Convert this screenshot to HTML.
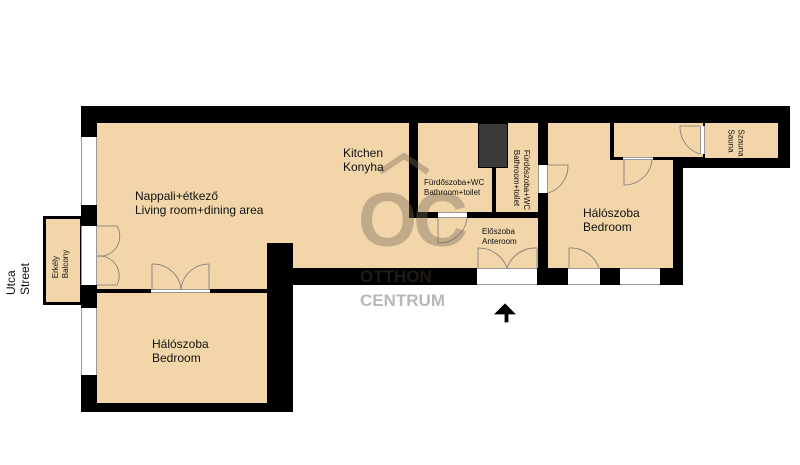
<!DOCTYPE html>
<html><head><meta charset="utf-8"><style>
body{margin:0;width:800px;height:465px;background:#fff;position:relative;overflow:hidden;font-family:"Liberation Sans",sans-serif}
div{position:absolute;box-sizing:border-box}
.f{background:#f2d6aa}
.w{background:#000}
.win{background:#fff;border-left:1px solid #999;border-right:1px solid #999}
.winh{background:#fff;border-top:1px solid #999;border-bottom:1px solid #999}
.t{font-size:12px;line-height:14px;color:#111;white-space:nowrap}
.s{font-size:8px;line-height:10px;color:#111;white-space:nowrap}
</style></head><body>
<div class="w" style="left:81px;top:106px;width:709px;height:62px"></div>
<div class="w" style="left:81px;top:106px;width:212px;height:306px"></div>
<div class="w" style="left:267px;top:106px;width:416px;height:179px"></div>
<div class="f" style="left:97px;top:123px;width:312px;height:145px"></div>
<div class="f" style="left:97px;top:123px;width:170px;height:166px"></div>
<div class="w" style="left:267px;top:243px;width:26px;height:25px"></div>
<div class="f" style="left:97px;top:293px;width:170px;height:110px"></div>
<div class="f" style="left:418px;top:123px;width:74px;height:89px"></div>
<div class="f" style="left:496px;top:123px;width:42px;height:89px"></div>
<div style="left:478px;top:123px;width:30px;height:45px;background:#3a3a3a;border:1px solid #000"></div>
<div class="f" style="left:405px;top:218px;width:133px;height:50px"></div>
<div class="f" style="left:548px;top:123px;width:125px;height:145px"></div>
<div class="w" style="left:610px;top:123px;width:4px;height:37px"></div>
<div class="w" style="left:610px;top:157px;width:63px;height:3px"></div>
<div class="f" style="left:614px;top:123px;width:89px;height:34px"></div>
<div class="f" style="left:705px;top:123px;width:73px;height:35px"></div>
<div class="w" style="left:97px;top:289px;width:170px;height:4px"></div>
<div class="winh" style="left:151px;top:289px;width:59px;height:4px"></div>
<div style="left:43px;top:216px;width:40px;height:89px;border:3px solid #000;background:#f2d6aa"></div>
<div class="win" style="left:81px;top:137px;width:16px;height:68px"></div>
<div class="win" style="left:81px;top:226px;width:16px;height:59px"></div>
<div class="win" style="left:81px;top:308px;width:16px;height:67px"></div>
<div class="winh" style="left:477px;top:268px;width:60px;height:17px"></div>
<div class="winh" style="left:568px;top:268px;width:32px;height:17px"></div>
<div class="winh" style="left:620px;top:268px;width:40px;height:17px"></div>
<div class="winh" style="left:438px;top:212px;width:29px;height:6px"></div>
<div class="win" style="left:538px;top:165px;width:10px;height:28px"></div>
<div class="winh" style="left:623px;top:157px;width:30px;height:3px"></div>
<div class="win" style="left:700px;top:126px;width:5px;height:28px"></div>
<svg style="position:absolute;left:0;top:0" width="800" height="465" fill="none" stroke="#777" stroke-width="0.8">
<path d="M97 226 L117 226 A20 20 0 0 1 97 256"/><path d="M97 285 L117 285 A20 20 0 0 0 97 256"/>
<path d="M152 289 L152 264 A28 28 0 0 1 181 289"/><path d="M209 289 L209 264 A28 28 0 0 0 181 289"/>
<path d="M438 218 L438 243 A28 28 0 0 0 467 218"/>
<path d="M478 268 L478 248 A30 30 0 0 1 507 268"/><path d="M537 268 L537 248 A30 30 0 0 0 507 268"/>
<path d="M548 165 L568 165 A28 28 0 0 1 548 193"/>
<path d="M569 268 L569 248 A30 30 0 0 1 599 268"/>
<path d="M624 160 L624 185 A28 28 0 0 0 652 160"/>
<path d="M700 126 L680 126 A28 28 0 0 0 700 154"/>
<text x="358" y="246" font-family="Liberation Sans,sans-serif" font-weight="bold" font-size="76" fill="rgba(120,105,90,0.4)" stroke="none" style="letter-spacing:-4px">OC</text>
<path d="M380 172 L404 156 L428 172" stroke="rgba(120,105,90,0.4)" stroke-width="6"/>
<text x="360" y="282" font-family="Liberation Sans,sans-serif" font-weight="bold" font-size="17" fill="rgba(120,105,90,0.25)" stroke="none">OTTHON</text>
<text x="360" y="306" font-family="Liberation Sans,sans-serif" font-weight="bold" font-size="17" fill="#b8b8b8" stroke="none">CENTRUM</text>
<path d="M505 322 L505 314 L495 314 L505 304 L515 314 L508 314 L508 322 Z" fill="#000" stroke="#000"/>
</svg>
<div class="t" style="left:135px;top:189px">Nappali+étkező<br>Living room+dining area</div>
<div class="t" style="left:343px;top:146px">Kitchen<br>Konyha</div>
<div class="t" style="left:152px;top:337px">Hálószoba<br>Bedroom</div>
<div class="t" style="left:583px;top:206px">Hálószoba<br>Bedroom</div>
<div class="s" style="left:424px;top:178px">Fürdőszoba+WC<br>Bathroom+toilet</div>
<div class="s" style="left:482px;top:227px">Előszoba<br>Anteroom</div>
<div class="s" style="left:491px;top:170px;transform:rotate(90deg);transform-origin:center">Fürdőszoba+WC<br>Bathroom+toilet</div>
<div class="s" style="left:722px;top:133px;transform:rotate(90deg)">Szauna<br>Sauna</div>
<div class="s" style="left:47px;top:254px;transform:rotate(-90deg)">Erkély<br>Balcony</div>
<div class="t" style="left:2px;top:265px;transform:rotate(-90deg)">Utca<br>Street</div>
</body></html>
